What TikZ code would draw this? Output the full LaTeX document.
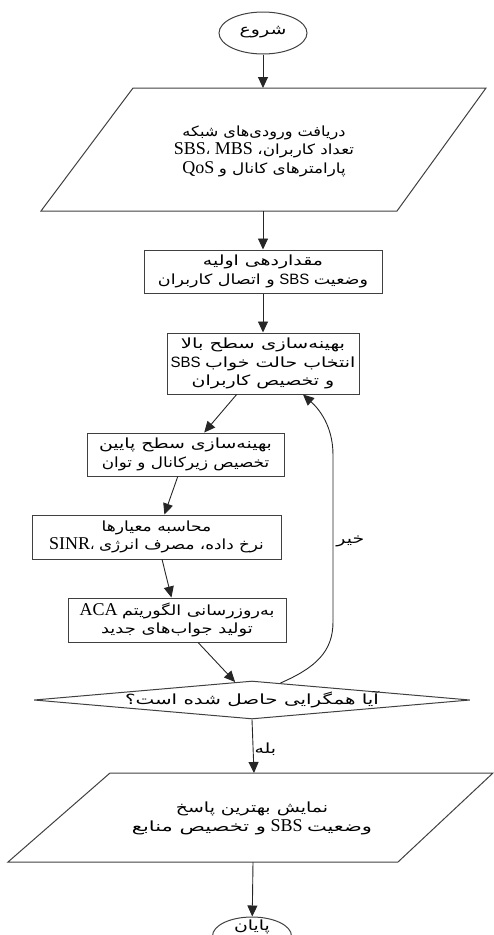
\documentclass[tikz,border=0pt]{standalone}
\usepackage{fontspec}
\usepackage{graphicx}
\setmainfont{Liberation Serif}
\newfontfamily\fa[Script=Arabic]{DejaVu Sans}
\newfontfamily\lsans{Liberation Sans}
\TeXXeTstate=1
\usetikzlibrary{arrows.meta,shapes.geometric,calc}
\newcommand\ar[2][1.35]{\hbox{\scalebox{#1}[1]{\beginR#2\endR}}}
\newcommand\ltr[1]{\beginL#1\endL}
\newcommand\ser[1]{{\rmfamily\fontsize{18}{18}\selectfont#1}}
\newcommand\san[1]{{\lsans\fontsize{15}{18}\selectfont#1}}
\begin{document}
\begin{tikzpicture}[x=1pt,y=-1pt,
  ln/.style={draw=black!85, line width=0.9pt},
  arr/.style={ln, -{Triangle[length=11pt,width=10pt]}},
  shp/.style={draw=black!75, line width=1pt},
  box/.style={shp, rectangle, inner sep=0pt, align=center,
    font=\fa\fontsize{14}{18.5}\selectfont},
  txt/.style={inner sep=0pt, align=center, font=\fa\fontsize{14}{18.5}\selectfont},
  term/.style={shp, ellipse, inner sep=0pt},
  diam/.style={shp, diamond, inner sep=0pt}
]
\useasboundingbox (0,0) rectangle (493,935);

% start
\node[term, minimum width=88pt, minimum height=42pt] (start) at (263,33) {};
\node[txt] (startT) at (263,32) {\ar{شروع}};

% input parallelogram
\draw[shp] (133,88) -- (486,88) -- (397,211) -- (41,211) -- cycle;
\coordinate (inTop) at (263,88);
\coordinate (inBot) at (263,211);
\node[txt] (inp) at (264,151) {\ar[1.15]{دریافت ورودی‌های شبکه}\\
  \ltr{\ser{SBS}{\fa،}\ \ser{MBS}}\ \ar[1.2]{تعداد کاربران،}\\
  \ser{QoS}\ \ar[1.2]{پارامترهای کانال و}};

% init
\node[box, minimum width=238pt, minimum height=43pt] (init) at (263,271.5)
  {\ar{مقداردهی اولیه}\\ \ar[1.25]{و اتصال کاربران}\ \san{SBS}\ \ar[1.25]{وضعیت}};

% upper level
\node[box, minimum width=192pt, minimum height=61pt] (up) at (263,363.5)
  {\ar[1.4]{بهینه‌سازی سطح بالا}\\ \san{SBS}\ \ar{انتخاب حالت خواب}\\ \ar{و تخصیص کاربران}};

% lower level
\node[box, minimum width=197pt, minimum height=43pt] (low) at (185.5,454.5)
  {\ar{بهینه‌سازی سطح پایین}\\ \ar[1.2]{تخصیص زیرکانال و توان}};

% metrics
\node[box, minimum width=249pt, minimum height=44pt] (met) at (156.5,537)
  {\ar[1.22]{محاسبه معیارها}\\ \ser{SINR}{\fa،}\ \ar[1.2]{نرخ داده، مصرف انرژی}};

% ACA update
\node[box, minimum width=218pt, minimum height=44pt] (aca) at (177,620)
  {\ser{ACA}\ \ar[1.25]{به‌روزرسانی الگوریتم}\\ \ar[1.28]{تولید جواب‌های جدید}};

% decision
\node[diam, minimum width=436pt, minimum height=38pt] (d) at (252,700) {};
\node[txt] (dq) at (d) {\ar[1.42]{آیا همگرایی حاصل شده است؟}};

% output parallelogram
\draw[shp] (110,773) -- (493,773) -- (398,862) -- (8,862) -- cycle;
\coordinate (outTop) at (254,773);
\coordinate (outBot) at (253,862);
\node[txt] (outp) at (252,818.5) {\ar{نمایش بهترین پاسخ}\\
  \ar[1.5]{و تخصیص منابع}\ \ser{SBS}\ \ar[1.5]{وضعیت}};

% end
\node[term, minimum width=79pt, minimum height=38pt] (fin) at (252,936) {};
\node[txt] (finT) at (252,927) {\ar{پایان}};

% connectors
\draw[arr] (start) -- (inTop);
\draw[arr] (inBot) -- (init);
\draw[arr] (init) -- (up);
\draw[arr] (up) -- (low);
\draw[arr] (low) -- (met);
\draw[arr] (met) -- (aca);
\draw[arr] (aca) -- (d);
\draw[arr] (d.south) -- node[txt, anchor=west, pos=0.55, xshift=1pt] (yes) {\ar{بله}} (outTop);
\draw[arr] (outBot) -- (fin);
\coordinate (lpA) at ($(d.north)!0.13!(d.east)$);
\coordinate (lpB) at ([xshift=40pt]up.south);
\draw[arr] (lpA) .. controls (315,668) and (333,652) .. (333,622)
  -- node[txt, anchor=west, pos=0.48, xshift=3pt] (no) {\ar{خیر}} (333,455)
  .. controls (333,425) and (318,408) .. (lpB);
\end{tikzpicture}
\end{document}
